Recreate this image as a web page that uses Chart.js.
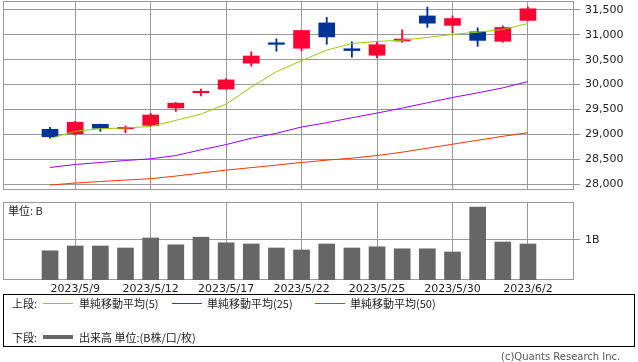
<!DOCTYPE html>
<html>
<head>
<meta charset="utf-8">
<script src="https://cdn.jsdelivr.net/npm/chart.js@4/dist/chart.umd.min.js"></script>
<style>
    body { margin: 0; background: #fff; width: 638px; height: 362px; position: relative; overflow: hidden; font-family: "Noto Sans CJK JP", "DejaVu Sans", sans-serif; }
    canvas { position: absolute; left: 0; }
    .txt { position: absolute; font-size: 11px; line-height: 12px; color: #222; white-space: nowrap; }
    .line { position: absolute; width: 30px; }
    #legendBox { position: absolute; left: 3px; top: 294px; width: 630px; height: 51px; border: 1px solid #000; }
</style>
</head>
<body>
<canvas id="priceChart" width="638" height="192" style="top:0"></canvas>
<canvas id="volumeChart" width="638" height="100" style="top:196px"></canvas>

<div class="txt" style="left:8px; top:204px;">単位: B</div>

<div id="legendBox"></div>
<div class="txt" style="left:12px; top:297px;">上段:</div>
<div class="line" style="left:43px; top:303px; border-top:1px solid #99cc00;"></div>
<div class="txt" style="left:79px; top:297px;">単純移動平均(5)</div>
<div class="line" style="left:172px; top:303px; border-top:1px solid #9900ff;"></div>
<div class="txt" style="left:207px; top:297px;">単純移動平均(25)</div>
<div class="line" style="left:315px; top:303px; border-top:1px solid #ff3300;"></div>
<div class="txt" style="left:350px; top:297px;">単純移動平均(50)</div>
<div class="txt" style="left:12px; top:331px;">下段:</div>
<div class="line" style="left:43px; top:335px; border-top:4px solid #666;"></div>
<div class="txt" style="left:79px; top:331px;">出来高 単位:(B株/口/枚)</div>

<div class="txt" style="left:501px; top:351px; font-family:'DejaVu Sans'; font-size:10px; color:#555;">(c)Quants Research Inc.</div>

<script>
// 日付と四本値
const dates = ['2023/5/8', '2023/5/9', '2023/5/10', '2023/5/11', '2023/5/12',
    '2023/5/15', '2023/5/16', '2023/5/17', '2023/5/18', '2023/5/19',
    '2023/5/22', '2023/5/23', '2023/5/24', '2023/5/25', '2023/5/26',
    '2023/5/29', '2023/5/30', '2023/5/31', '2023/6/1', '2023/6/2'];
const openP  = [29100, 29010, 29200, 29110, 29180, 29530, 29835, 29910, 30430, 30840, 30730, 31240, 30720, 30590, 30875, 31380, 31190, 31060, 30870, 31290];
const highP  = [29140, 29260, 29205, 29170, 29420, 29640, 29910, 30120, 30660, 30920, 31090, 31350, 30860, 30870, 31100, 31560, 31380, 31140, 31180, 31560];
const lowP   = [28920, 28990, 29060, 29030, 29160, 29460, 29770, 29900, 30370, 30670, 30680, 30810, 30550, 30540, 30850, 31150, 31040, 30770, 30850, 31280];
const closeP = [28950, 29243, 29122, 29127, 29388, 29626, 29843, 30094, 30574, 30808, 31087, 30958, 30683, 30801, 30916, 31234, 31328, 30888, 31148, 31524];

// 移動平均
const sma5  = [28915, 29060, 29113, 29127, 29160, 29280, 29407, 29607, 29947, 30260, 30480, 30693, 30827, 30867, 30893, 30947, 31007, 31053, 31107, 31227];
const sma25 = [28333, 28393, 28433, 28473, 28507, 28573, 28687, 28793, 28920, 29020, 29147, 29233, 29333, 29427, 29527, 29633, 29740, 29833, 29933, 30060];
const sma50 = [27980, 28020, 28050, 28080, 28107, 28160, 28220, 28280, 28330, 28380, 28433, 28480, 28520, 28573, 28640, 28720, 28800, 28880, 28960, 29033];

// 出来高 (B)
const volume = [0.73, 0.85, 0.85, 0.80, 1.05, 0.88, 1.07, 0.93, 0.90, 0.80, 0.75, 0.90, 0.80, 0.83, 0.78, 0.78, 0.70, 1.82, 0.95, 0.90];

const priceTicks = [28000, 28500, 29000, 29500, 30000, 30500, 31000, 31500];
const volumeTicks = [1];
const gridIdx = [1, 4, 7, 10, 13, 16, 19];

const UP = '#ff0033';
const DOWN = '#003399';
const GRID = '#999999';
const X_MIN = -1.87;
const X_MAX = 20.83;

const framePlugin = {
    id: 'frame',
    beforeDatasetsDraw(chart) {
        const a = chart.chartArea;
        const c = chart.ctx;
        c.save();
        c.strokeStyle = GRID;
        c.lineWidth = 1;
        c.strokeRect(Math.round(a.left) + 0.5, Math.round(a.top) + 0.5,
            Math.round(a.right - a.left) - 1, Math.round(a.bottom - a.top) - 1);
        c.restore();
    }
};

// ラベルのはみ出し用の余白を消す
const fitY = s => { s.width = 64; s.paddingTop = 0; s.paddingBottom = 0; };

const candleColors = openP.map((o, i) => closeP[i] >= o ? UP : DOWN);
const points = arr => arr.map((v, i) => ({ x: i, y: v }));

new Chart(document.getElementById('priceChart'), {
    type: 'bar',
    data: {
        datasets: [
            {
                type: 'line', data: points(sma5), borderColor: '#99cc00', borderWidth: 1,
                pointRadius: 0, tension: 0, order: 0
            },
            {
                type: 'line', data: points(sma25), borderColor: '#9900ff', borderWidth: 1,
                pointRadius: 0, tension: 0, order: 0
            },
            {
                type: 'line', data: points(sma50), borderColor: '#ff3300', borderWidth: 1,
                pointRadius: 0, tension: 0, order: 0
            },
            {
                data: openP.map((o, i) => ({ x: i, y: [o, closeP[i]] })),
                backgroundColor: candleColors, barThickness: 16, minBarLength: 1.5,
                grouped: false, order: 1
            },
            {
                data: lowP.map((l, i) => ({ x: i, y: [l, highP[i]] })),
                backgroundColor: candleColors, barThickness: 1.2,
                grouped: false, order: 2
            }
        ]
    },
    options: {
        responsive: false,
        animation: false,
        events: [],
        layout: { padding: { left: 3, top: 1, right: 0, bottom: 2 } },
        plugins: { legend: { display: false }, tooltip: { enabled: false } },
        scales: {
            x: {
                type: 'linear', min: X_MIN, max: X_MAX, offset: false,
                afterBuildTicks: s => { s.ticks = gridIdx.map(v => ({ value: v })); },
                afterFit: s => { s.height = 0; s.paddingLeft = 0; s.paddingRight = 0; },
                ticks: { display: false },
                grid: { color: GRID, drawTicks: false, offset: false },
                border: { display: false }
            },
            y: {
                position: 'right', min: 27880, max: 31680,
                afterBuildTicks: s => { s.ticks = priceTicks.map(v => ({ value: v })); },
                afterFit: fitY,
                ticks: {
                    callback: v => v.toLocaleString('en-US'),
                    font: { family: 'DejaVu Sans', size: 11 }, color: '#222', padding: 5
                },
                grid: { color: GRID, tickLength: 6 },
                border: { display: false }
            }
        }
    },
    plugins: [framePlugin]
});

new Chart(document.getElementById('volumeChart'), {
    type: 'bar',
    data: {
        datasets: [{
            data: points(volume),
            backgroundColor: '#666666', barThickness: 16
        }]
    },
    options: {
        responsive: false,
        animation: false,
        events: [],
        layout: { padding: { left: 3, top: 6, right: 0, bottom: 0 } },
        plugins: { legend: { display: false }, tooltip: { enabled: false } },
        scales: {
            x: {
                type: 'linear', min: X_MIN, max: X_MAX, offset: false,
                afterBuildTicks: s => { s.ticks = gridIdx.map(v => ({ value: v })); },
                afterFit: s => { s.height = 16; s.paddingLeft = 0; s.paddingRight = 0; },
                ticks: {
                    callback: v => dates[v], autoSkip: false, maxRotation: 0,
                    font: { family: 'DejaVu Sans', size: 11 }, color: '#222', padding: 3
                },
                grid: { color: GRID, drawTicks: false, offset: false },
                border: { display: false }
            },
            y: {
                position: 'right', min: 0, max: 1.95,
                afterBuildTicks: s => { s.ticks = volumeTicks.map(v => ({ value: v })); },
                afterFit: fitY,
                ticks: {
                    callback: v => v + 'B',
                    font: { family: 'DejaVu Sans', size: 11 }, color: '#222', padding: 5
                },
                grid: { color: GRID, tickLength: 6 },
                border: { display: false }
            }
        }
    },
    plugins: [framePlugin]
});
</script>
</body>
</html>
